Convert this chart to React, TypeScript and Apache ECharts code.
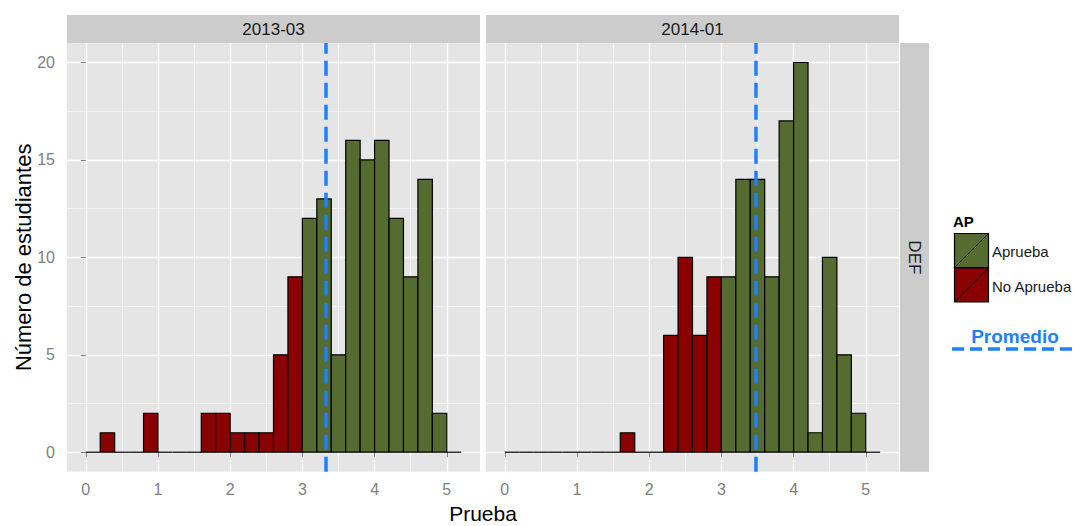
import React, { useEffect, useRef } from "react";
import * as echarts from "echarts";

// ---- Data ----
const panels = ["2013-03", "2014-01"];
const rowStrip = "DEF";
const binWidth = 0.2;
const binStarts = [
  0, 0.2, 0.4, 0.6, 0.8, 1.0, 1.2, 1.4, 1.6, 1.8, 2.0, 2.2, 2.4, 2.6, 2.8,
  3.0, 3.2, 3.4, 3.6, 3.8, 4.0, 4.2, 4.4, 4.6, 4.8, 5.0,
];
const counts2013 = [
  0, 1, 0, 0, 2, 0, 0, 0, 2, 2, 1, 1, 1, 5, 9,
  12, 13, 5, 16, 15, 16, 12, 9, 14, 2, 0,
];
const counts2014 = [
  0, 0, 0, 0, 0, 0, 0, 0, 1, 0, 0, 6, 10, 6, 9,
  9, 14, 14, 9, 17, 20, 1, 10, 5, 2, 0,
];
const passThreshold = 3;
const means = [3.32, 3.47];
const xTicks = [0, 1, 2, 3, 4, 5];
const xMinor = [0.5, 1.5, 2.5, 3.5, 4.5];
const yTicks = [0, 5, 10, 15, 20];
const yMinor = [2.5, 7.5, 12.5, 17.5];
const legendTitle = "AP";
const legendLabels = ["Aprueba", "No Aprueba"];
const meanLabel = "Promedio";
const xTitle = "Prueba";
const yTitle = "Número de estudiantes";

// ---- Styles ----
const FONT = "'Liberation Sans', Arial, sans-serif";
const GREEN = "#556B2F";
const RED = "#8B0000";
const BLUE = "#1F7FFF";
const X_MIN = -0.26;
const X_MAX = 5.46;
const Y_MIN = -1;
const Y_MAX = 21;

const PANEL_TOP = 43;
const PANEL_H = 428.7;
const PANEL_W = 413;
const PANEL_LEFTS = [67, 486];

export default function App() {
  const ref = useRef<HTMLDivElement>(null);

  useEffect(() => {
    if (!ref.current) return;
    const chart = echarts.init(ref.current, null, { renderer: "svg" });

    const allCounts = [counts2013, counts2014];

    const grids = PANEL_LEFTS.map((left) => ({
      left,
      top: PANEL_TOP,
      width: PANEL_W,
      height: PANEL_H,
      show: true,
      backgroundColor: "#E5E5E5",
      borderWidth: 0,
      containLabel: false,
    }));

    const xAxes: any[] = [];
    const yAxes: any[] = [];
    PANEL_LEFTS.forEach((_, i) => {
      xAxes.push({
        type: "value",
        gridIndex: i,
        min: X_MIN,
        max: X_MAX,
        position: "bottom",
        z: 1,
        axisLine: { show: false },
        axisTick: {
          show: true,
          length: 5,
          customValues: xTicks,
          lineStyle: { color: "#7F7F7F", width: 1 },
        },
        axisLabel: {
          show: true,
          customValues: xTicks,
          color: "#7F7F7F",
          fontSize: 16,
          fontFamily: FONT,
          margin: 10,
        },
        splitLine: { show: true, lineStyle: { color: "#FFFFFF", width: 1.3 } },
      });
      xAxes.push({
        type: "value",
        gridIndex: i,
        min: X_MIN,
        max: X_MAX,
        position: "top",
        z: 0,
        axisLine: { show: false },
        axisTick: { show: false, customValues: xMinor },
        axisLabel: { show: false, customValues: xMinor },
        splitLine: { show: true, lineStyle: { color: "#F2F2F2", width: 1 } },
      });
      yAxes.push({
        type: "value",
        gridIndex: i,
        min: Y_MIN,
        max: Y_MAX,
        position: "left",
        z: 1,
        axisLine: { show: false },
        axisTick: {
          show: i === 0,
          length: 5,
          customValues: yTicks,
          lineStyle: { color: "#7F7F7F", width: 1 },
        },
        axisLabel: {
          show: i === 0,
          customValues: yTicks,
          color: "#7F7F7F",
          fontSize: 16,
          fontFamily: FONT,
          margin: 12,
        },
        splitLine: { show: true, lineStyle: { color: "#FFFFFF", width: 1.3 } },
      });
      yAxes.push({
        type: "value",
        gridIndex: i,
        min: Y_MIN,
        max: Y_MAX,
        position: "right",
        z: 0,
        axisLine: { show: false },
        axisTick: { show: false, customValues: yMinor },
        axisLabel: { show: false, customValues: yMinor },
        splitLine: { show: true, lineStyle: { color: "#F2F2F2", width: 1 } },
      });
    });

    const series: any[] = allCounts.map((counts, i) => ({
      type: "custom",
      xAxisIndex: i * 2,
      yAxisIndex: i * 2,
      z: 2,
      data: binStarts.map((s, k) => [s, s + binWidth, counts[k], s >= passThreshold ? 1 : 0]),
      renderItem: (params: any, api: any) => {
        const x0 = api.value(0);
        const x1 = api.value(1);
        const c = api.value(2);
        const pass = api.value(3);
        const p0 = api.coord([x0, 0]);
        const p1 = api.coord([x1, c]);
        if (!c) {
          return {
            type: "line",
            shape: { x1: p0[0], y1: p0[1], x2: p1[0], y2: p0[1] },
            style: { stroke: "#000000", lineWidth: 1.2 },
          };
        }
        return {
          type: "rect",
          shape: { x: p0[0], y: p1[1], width: p1[0] - p0[0], height: p0[1] - p1[1] },
          style: { fill: pass ? GREEN : RED, stroke: "#000000", lineWidth: 1.2 },
        };
      },
      markLine: {
        silent: true,
        symbol: "none",
        animation: false,
        label: { show: false },
        lineStyle: { color: BLUE, width: 3.5, type: [15, 7], cap: "butt" },
        data: [{ xAxis: means[i] }],
        z: 5,
      },
    }));

    const graphic: any[] = [];
    // top strips
    PANEL_LEFTS.forEach((left, i) => {
      graphic.push({
        type: "rect",
        shape: { x: left, y: 15, width: PANEL_W, height: 28 },
        style: { fill: "#CCCCCC" },
        silent: true,
      });
      graphic.push({
        type: "text",
        x: left + PANEL_W / 2,
        y: 29,
        style: {
          text: panels[i],
          fill: "#1A1A1A",
          font: `17px ${FONT}`,
          align: "center",
          verticalAlign: "middle",
        },
        silent: true,
      });
    });
    // right strip
    graphic.push({
      type: "rect",
      shape: { x: 900, y: PANEL_TOP, width: 29, height: PANEL_H },
      style: { fill: "#CCCCCC" },
      silent: true,
    });
    graphic.push({
      type: "text",
      x: 914.5,
      y: PANEL_TOP + PANEL_H / 2,
      rotation: -Math.PI / 2,
      style: {
        text: rowStrip,
        fill: "#1A1A1A",
        font: `17px ${FONT}`,
        align: "center",
        verticalAlign: "middle",
      },
      silent: true,
    });
    // axis titles
    graphic.push({
      type: "text",
      x: 483,
      y: 513,
      style: { text: xTitle, fill: "#000000", font: `21px ${FONT}`, align: "center", verticalAlign: "middle" },
      silent: true,
    });
    graphic.push({
      type: "text",
      x: 23,
      y: PANEL_TOP + PANEL_H / 2,
      rotation: Math.PI / 2,
      style: { text: yTitle, fill: "#000000", font: `22px ${FONT}`, align: "center", verticalAlign: "middle" },
      silent: true,
    });
    // legend
    graphic.push({
      type: "text",
      x: 953,
      y: 221,
      style: { text: legendTitle, fill: "#000000", font: `bold 15px ${FONT}`, align: "left", verticalAlign: "middle" },
      silent: true,
    });
    const keyColors = [GREEN, RED];
    const keyX = 954.5;
    const keyW = 34;
    const keyTops = [233.5, 268];
    keyColors.forEach((col, k) => {
      const y = keyTops[k];
      graphic.push({
        type: "rect",
        shape: { x: keyX, y, width: keyW, height: 34 },
        style: { fill: col, stroke: "#000000", lineWidth: 1.2 },
        silent: true,
      });
      graphic.push({
        type: "line",
        shape: { x1: keyX, y1: y + 34, x2: keyX + keyW, y2: y },
        style: { stroke: "#000000", lineWidth: 1 },
        silent: true,
      });
      graphic.push({
        type: "text",
        x: 992,
        y: y + 18,
        style: { text: legendLabels[k], fill: "#1A1A1A", font: `15px ${FONT}`, align: "left", verticalAlign: "middle" },
        silent: true,
      });
    });
    graphic.push({
      type: "text",
      x: 1015,
      y: 336,
      style: { text: meanLabel, fill: BLUE, font: `bold 19px ${FONT}`, align: "center", verticalAlign: "middle" },
      silent: true,
    });
    graphic.push({
      type: "line",
      shape: { x1: 952, y1: 349, x2: 1074, y2: 349 },
      style: { stroke: BLUE, lineWidth: 3.5, lineDash: [12, 6] },
      silent: true,
    });

    chart.setOption({
      animation: false,
      backgroundColor: "#FFFFFF",
      grid: grids,
      xAxis: xAxes,
      yAxis: yAxes,
      series,
      graphic,
    });

    return () => {
      chart.dispose();
    };
  }, []);

  return (
    <div
      ref={ref}
      style={{ position: "fixed", left: 0, top: 0, width: 1075, height: 526 }}
    />
  );
}
